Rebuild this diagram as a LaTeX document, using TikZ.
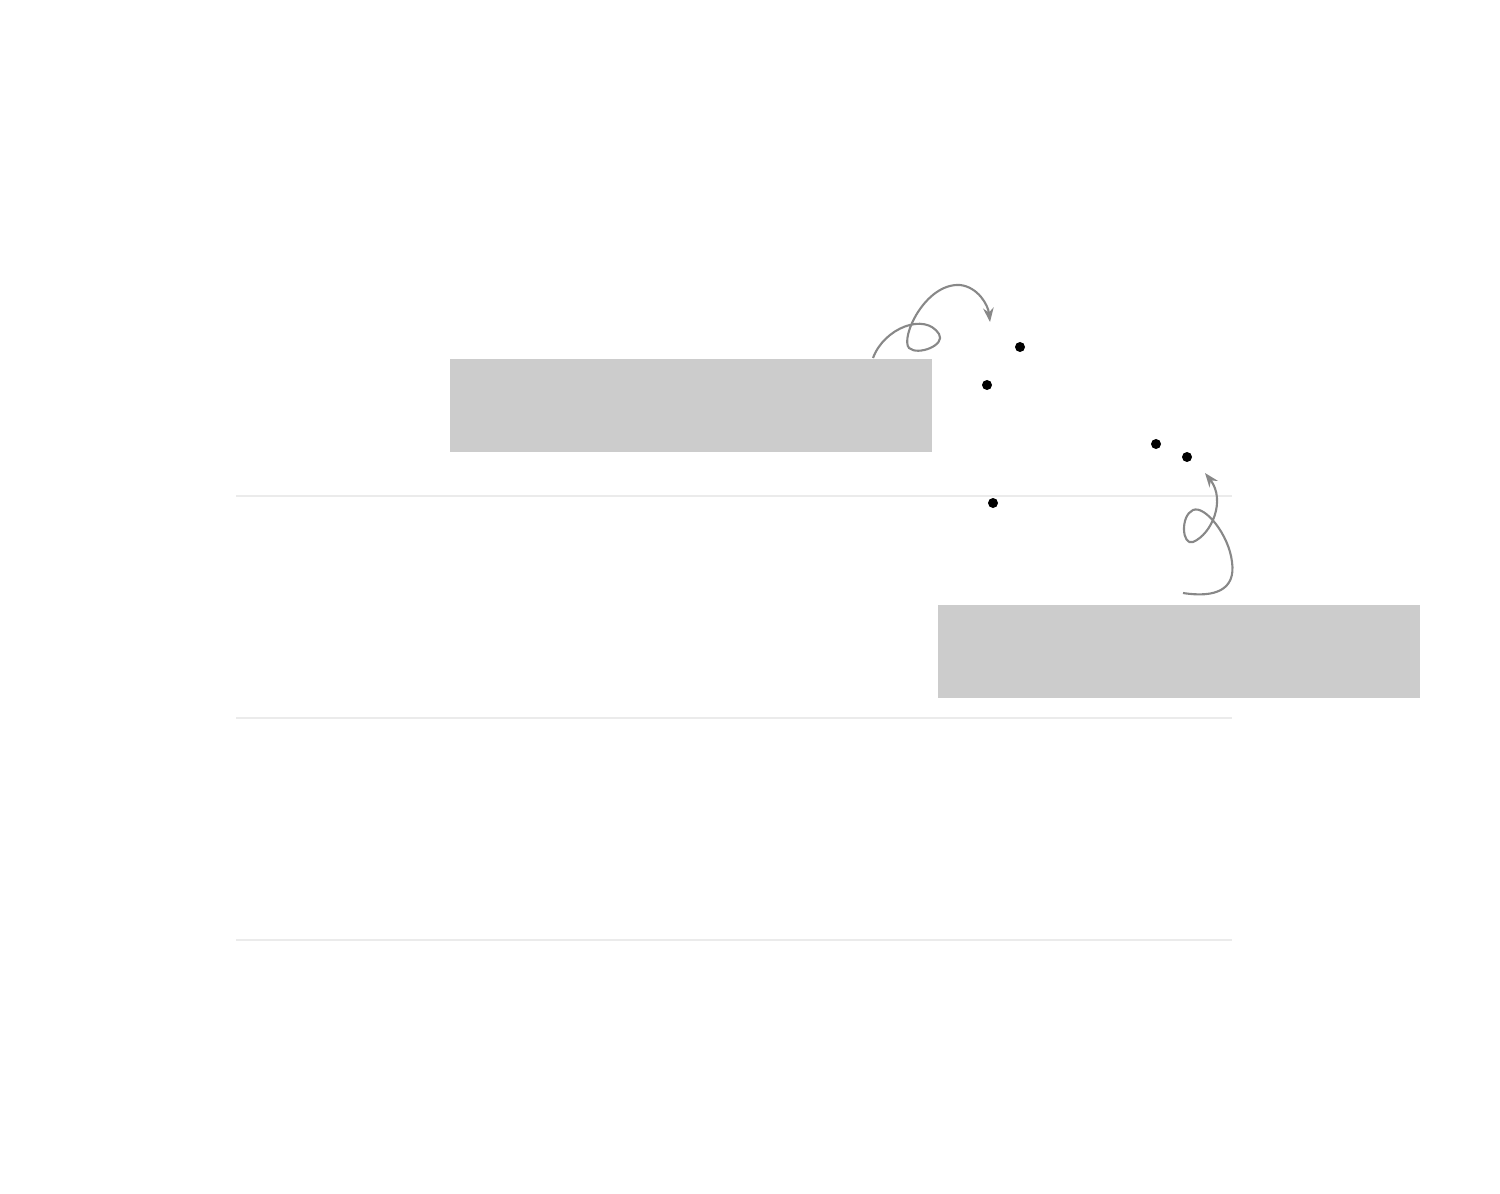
\documentclass[tikz,border=0pt]{standalone}
\usepackage{xcolor}
\definecolor{RuleGray}{HTML}{EBEBEB}
\definecolor{BarGray}{HTML}{CCCCCC}
\definecolor{LinkGray}{HTML}{888888}
\usepackage{tikz}
\usetikzlibrary{calc, positioning, arrows.meta}

\begin{document}
\begin{tikzpicture}[x=0.01cm, y=-0.01cm,
    bar/.style={fill=BarGray, inner sep=0pt, minimum width=4.82cm, minimum height=0.93cm, anchor=north west},
    dot/.style={circle, fill=black, inner sep=0pt, minimum size=0.1cm},
    link/.style={LinkGray, line width=0.6pt, -{Stealth[length=4pt, width=3pt]}}]

    \useasboundingbox (0,0) rectangle (1500,1194);

    % 1. ROW RULES
    \foreach \y in {496, 718, 940} {
        \draw[RuleGray, line width=0.6pt] (236,\y) -- (1232,\y);
    }

    % 2. BARS
    \node[bar] (barA) at (449,358) {};
    \node[bar] (barB) at (937,604) {};

    % 3. POINTS
    \node[dot] (ptA) at (1020,347) {};
    \node[dot] (ptB) at (987,385) {};
    \node[dot] (ptC) at (1156,444) {};
    \node[dot] (ptD) at (1187,457) {};
    \node[dot] (ptE) at (993,503) {};

    % 4. LOOPED LINKS
    \coordinate (startA) at (873,358);
    \coordinate (endA) at (990,322);
    \draw[link] (startA) .. controls (884,328) and (925,312) .. (939,334)
        .. controls (946,345) and (918,356) .. (909,348)
        .. controls (900,338) and (925,283) .. (960,285)
        .. controls (978,287) and (988,305) .. (endA);

    \coordinate (startB) at (1183,593);
    \coordinate (endB) at (1205,473);
    \draw[link] (startB) .. controls (1215,598) and (1236,590) .. (1232,562)
        .. controls (1229,535) and (1205,505) .. (1193,510)
        .. controls (1180,516) and (1182,546) .. (1193,542)
        .. controls (1212,534) and (1226,500) .. (endB);

\end{tikzpicture}
\end{document}
